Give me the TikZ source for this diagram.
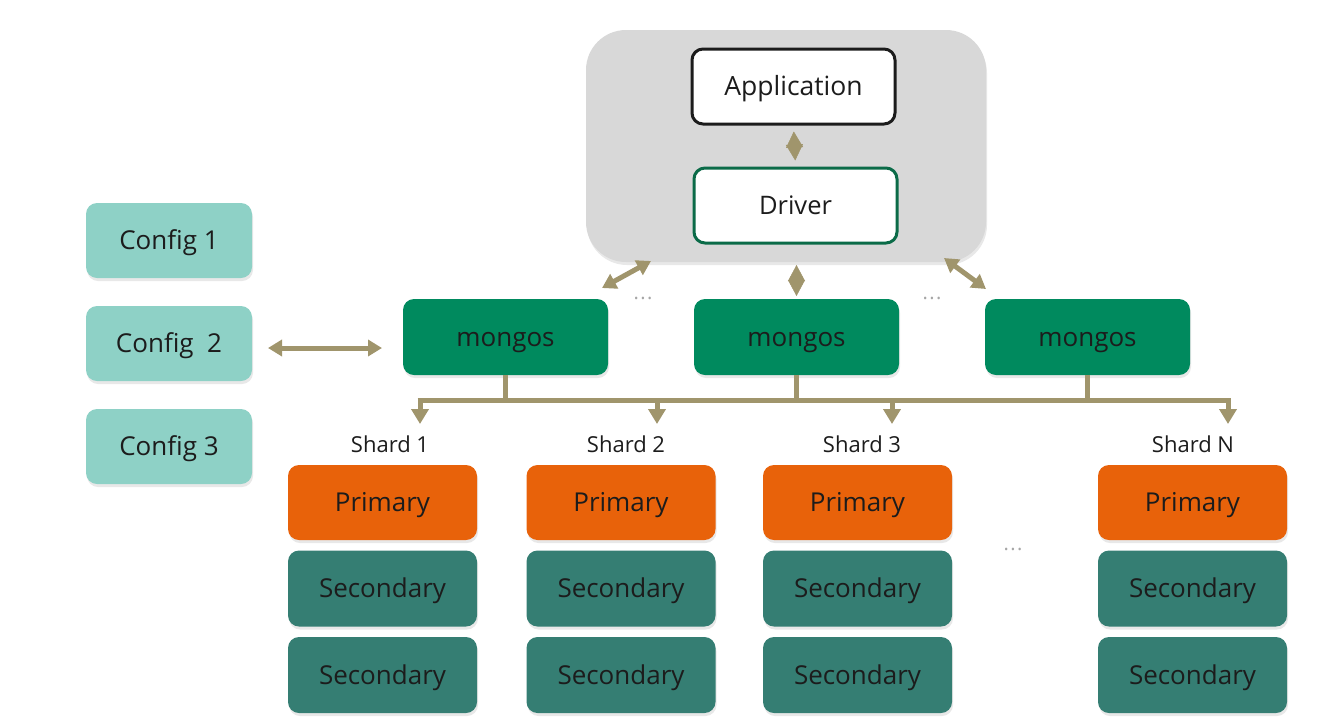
\documentclass[tikz,border=0pt]{standalone}
\usepackage{fontspec}
\setmainfont{Open Sans}
\usetikzlibrary{arrows.meta,shadows}
\definecolor{grayc}{HTML}{D8D8D8}
\definecolor{olive}{HTML}{A0956C}
\definecolor{mgreen}{HTML}{008A5E}
\definecolor{dgreen}{HTML}{0B6B48}
\definecolor{cfg}{HTML}{8ED1C6}
\definecolor{prim}{HTML}{E8620A}
\definecolor{sec}{HTML}{357E73}
\definecolor{txt}{HTML}{1C1C1C}
\begin{document}
\begin{tikzpicture}[x=1pt,y=-1pt,
  lbl/.style={text=txt,font=\fontsize{26}{30}\selectfont,text height=18.5pt,text depth=0pt},
  box/.style={rectangle,rounded corners=11pt,inner sep=0pt,outer sep=0pt,lbl,
    drop shadow={shadow xshift=1pt,shadow yshift=-3pt,opacity=0.18}},
  mongosbox/.style={box,fill=mgreen,minimum width=205pt,minimum height=76pt},
  cfgbox/.style={box,fill=cfg,minimum width=166pt,minimum height=75pt},
  primbox/.style={box,fill=prim,minimum width=189pt,minimum height=75pt},
  secbox/.style={box,fill=sec,minimum width=189pt,minimum height=76pt},
  conn/.style={draw=olive,line width=5pt},
  dbl/.style={conn,{Triangle[length=14pt,width=16pt]}-{Triangle[length=14pt,width=16pt]}},
  diam/.style={draw=olive,line width=0.5pt,{Triangle[length=16pt,width=17pt]}-{Triangle[length=16pt,width=17pt]}},
  down/.style={conn,-{Triangle[length=15pt,width=17pt]}},
  shardlbl/.style={text=txt,font=\fontsize{22}{26}\selectfont,inner sep=0pt,text height=15.7pt,text depth=0pt},
  dots/.style={text=gray!70,font=\fontsize{20}{22}\selectfont,inner sep=0pt}
]
\useasboundingbox (0,0) rectangle (1320,721);

% client box
\node[box,fill=grayc,rounded corners=40pt,minimum width=400pt,minimum height=232pt] (client) at (786,146) {};
\node[rectangle,rounded corners=11pt,draw=txt,line width=3pt,fill=white,minimum width=203pt,minimum height=75pt,lbl,font=\fontsize{26.5}{30}\selectfont] (app) at (793.5,86.5) {Application};
\node[rectangle,rounded corners=11pt,draw=dgreen,line width=3pt,fill=white,minimum width=203pt,minimum height=75pt,lbl,font=\fontsize{25.5}{30}\selectfont] (driver) at (795.5,205.5) {Driver};
\draw[diam,shorten <=6pt,shorten >=6pt] (app.south) -- (driver.north);

% mongos
\node[mongosbox] (m1) at (505.5,337) {mongos};
\node[mongosbox] (m2) at (796.5,337) {mongos};
\node[mongosbox] (m3) at (1087.5,337) {mongos};
\node[dots] (d1) at (643,298) {.\kern1.5pt.\kern1.5pt.};
\node[dots] (d2) at (932,298) {.\kern1.5pt.\kern1.5pt.};

\draw[diam,shorten <=3pt,shorten >=3pt] (client.south -| m2.north) -- (m2.north);
\coordinate (cl) at (651,261);
\coordinate (ml) at (602,288);
\coordinate (cr) at (944,258);
\coordinate (mr) at (986,289);
\draw[dbl] (cl) -- (ml);
\draw[dbl] (cr) -- (mr);

% configs
\node[cfgbox] (c1) at (169,240.5) {Config 1};
\node[cfgbox] (c2) at (169,343.5) {Config\ \ 2};
\node[cfgbox] (c3) at (169,446.5) {Config 3};
\coordinate (c2r) at (268,348);
\coordinate (m1l) at (382,348);
\draw[dbl] (c2r) -- (m1l);

% bus
\coordinate (busL) at (420,400);
\coordinate (busR) at (1228,400);
\draw[conn] (m1.south) -- (m1.south |- busL);
\draw[conn] (m2.south) -- (m2.south |- busL);
\draw[conn] (m3.south) -- (m3.south |- busL);
\draw[conn,line cap=butt] ([xshift=-2.5pt]busL) -- ([xshift=2.5pt]busR);
\coordinate (t1) at (420,424);
\coordinate (t2) at (657,424);
\coordinate (t3) at (892,424);
\coordinate (t4) at (1228,424);
\draw[down] (busL) -- (t1);
\draw[down] (t2 |- busL) -- (t2);
\draw[down] (t3 |- busL) -- (t3);
\draw[down] (busR) -- (t4);

% shards
\node[shardlbl] (s1) at (390,445) {Shard 1};
\node[shardlbl] (s2) at (626,445) {Shard 2};
\node[shardlbl] (s3) at (862,445) {Shard 3};
\node[shardlbl] (s4) at (1193,445) {Shard N};

\foreach \i/\x in {1/382.5,2/621,3/857.5,4/1192.5}{
  \node[primbox] (p\i) at (\x,502.5) {Primary};
  \node[secbox] (sa\i) at (\x,588.5) {Secondary};
  \node[secbox] (sb\i) at (\x,675) {Secondary};
}
\node[dots] (d3) at (1013,549) {.\kern1.5pt.\kern1.5pt.};
\end{tikzpicture}
\end{document}
